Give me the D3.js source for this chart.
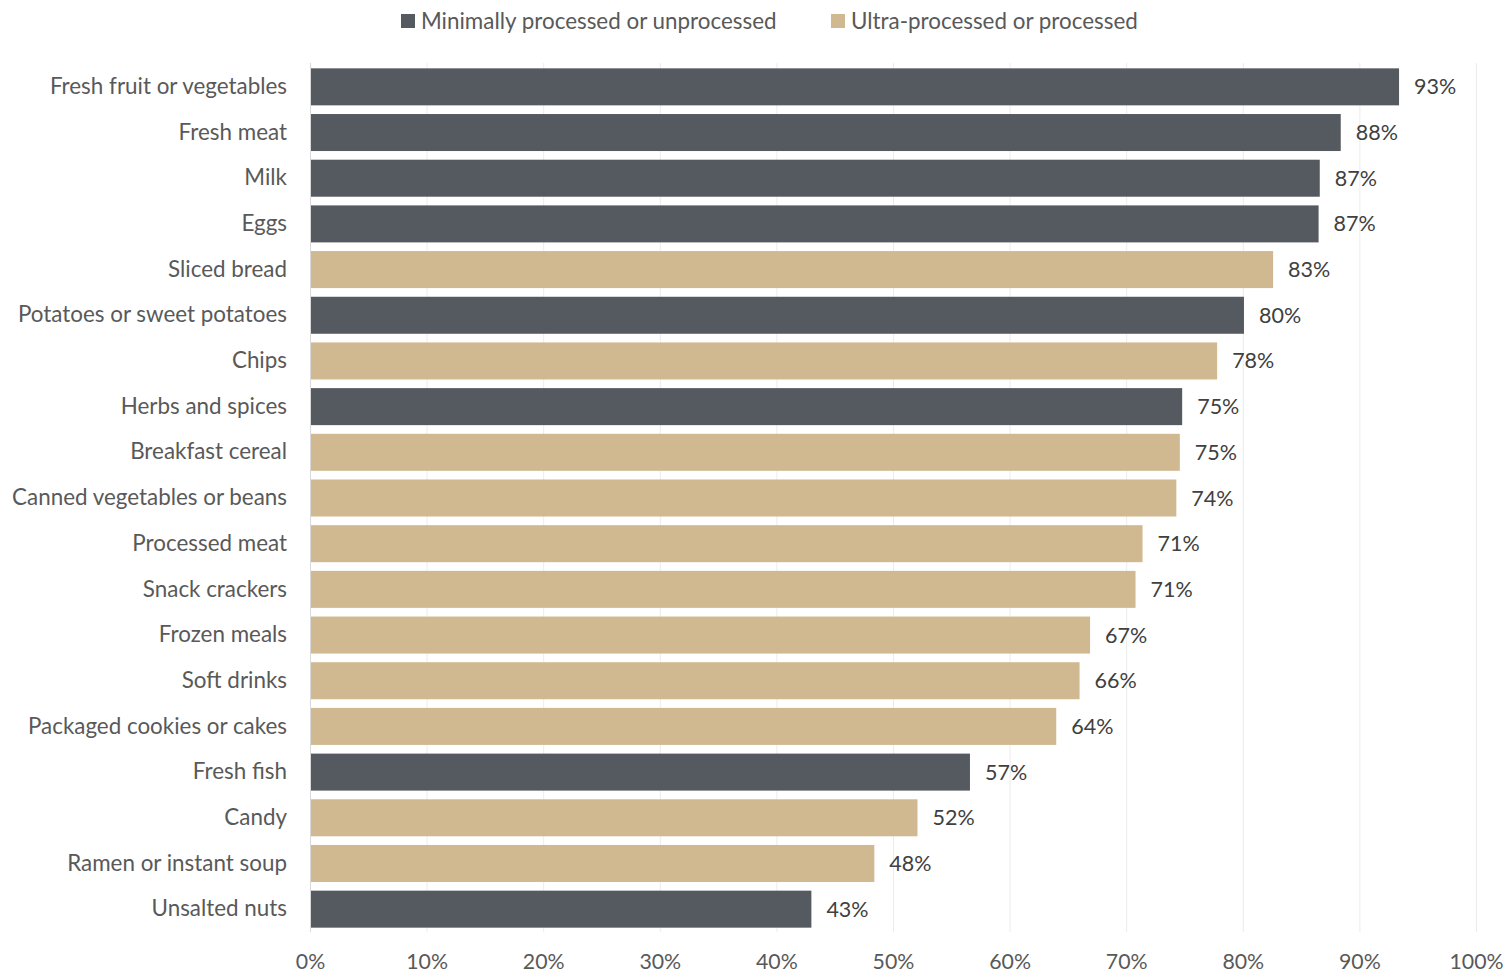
<!DOCTYPE html>
<html>
<head>
<meta charset="utf-8">
<script src="https://cdn.jsdelivr.net/npm/d3@7"></script>
<style>
  html, body { margin: 0; padding: 0; background: #fff; }
  svg { display: block; font-family: Lato, "Open Sans", sans-serif; }
</style>
</head>
<body>
<svg id="chart" width="1510" height="973"></svg>
<script>
// Share of respondents, by food item
const categories = [
  "Fresh fruit or vegetables", "Fresh meat", "Milk", "Eggs", "Sliced bread",
  "Potatoes or sweet potatoes", "Chips", "Herbs and spices", "Breakfast cereal",
  "Canned vegetables or beans", "Processed meat", "Snack crackers", "Frozen meals",
  "Soft drinks", "Packaged cookies or cakes", "Fresh fish", "Candy",
  "Ramen or instant soup", "Unsalted nuts"
];
const values = [
  93.4, 88.4, 86.6, 86.5, 82.6,
  80.1, 77.8, 74.8, 74.6,
  74.3, 71.4, 70.8, 66.9,
  66.0, 64.0, 56.6, 52.1,
  48.4, 43.0
];
const groups = [
  "min", "min", "min", "min", "ultra",
  "min", "ultra", "min", "ultra",
  "ultra", "ultra", "ultra", "ultra",
  "ultra", "ultra", "min", "ultra",
  "ultra", "min"
];
const seriesKeys = ["min", "ultra"];
const seriesNames = ["Minimally processed or unprocessed", "Ultra-processed or processed"];
const tickValues = [0, 10, 20, 30, 40, 50, 60, 70, 80, 90, 100];

const rows = categories.map((c, i) => ({ name: c, value: values[i], group: groups[i] }));

const svg = d3.select("#chart");
const textColor = "#595959";
const color = d3.scaleOrdinal().domain(seriesKeys).range(["#555960", "#D0B990"]);

const x = d3.scaleLinear().domain([0, 100]).range([310, 1476]);
const y = d3.scaleBand().domain(categories).range([63, 931]).paddingInner(0.19).paddingOuter(0.095);

// vertical gridlines
svg.append("g")
  .selectAll("line")
  .data(tickValues)
  .join("line")
  .attr("x1", d => x(d) + 0.5).attr("x2", d => x(d) + 0.5)
  .attr("y1", 63).attr("y2", 932)
  .attr("stroke", d => d === 0 ? "#d9d9d9" : "#ececec")
  .attr("stroke-width", 1);

// bars
svg.append("g")
  .selectAll("rect")
  .data(rows)
  .join("rect")
  .attr("x", x(0) + 1)
  .attr("y", d => y(d.name) + 1)
  .attr("width", d => x(d.value) - x(0) - 1)
  .attr("height", y.bandwidth())
  .attr("fill", d => color(d.group));

// value labels
svg.append("g")
  .selectAll("text")
  .data(rows)
  .join("text")
  .attr("x", d => x(d.value) + 15)
  .attr("y", d => y(d.name) + y.bandwidth() / 2 + 1)
  .attr("dy", "0.35em")
  .attr("fill", "#404040")
  .attr("font-size", 21.5)
  .text(d => Math.round(d.value) + "%");

// category axis
const yAxis = d3.axisLeft(y).tickSize(0).tickPadding(23);
const gy = svg.append("g").attr("transform", `translate(${x(0)},1)`).call(yAxis);
gy.select(".domain").remove();
gy.selectAll("text").attr("font-size", 22.4).attr("fill", textColor).attr("font-family", "Lato, 'Open Sans', sans-serif");

// value axis
const xAxis = d3.axisBottom(x).tickValues(tickValues).tickSize(0).tickPadding(0).tickFormat(d => d + "%");
const gx = svg.append("g").attr("transform", "translate(0,962)").call(xAxis);
gx.select(".domain").remove();
gx.selectAll("text").attr("dy", "0.35em").attr("font-size", 21.3).attr("fill", textColor).attr("font-family", "Lato, 'Open Sans', sans-serif");

// legend
const legend = svg.append("g");
const legendX = [401, 831];
seriesKeys.forEach((k, i) => {
  const g = legend.append("g").attr("transform", `translate(${legendX[i]},21)`);
  g.append("rect").attr("x", 0).attr("y", -7).attr("width", 14).attr("height", 14).attr("fill", color(k));
  g.append("text").attr("x", 20).attr("dy", "0.35em").attr("font-size", 22.4).attr("fill", textColor).text(seriesNames[i]);
});
</script>
</body>
</html>
